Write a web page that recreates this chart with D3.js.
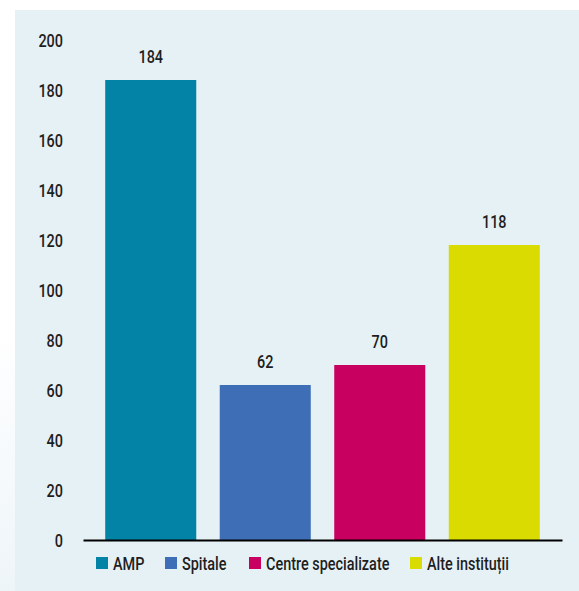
<!DOCTYPE html>
<html>
<head>
<meta charset="utf-8">
<script src="https://cdn.jsdelivr.net/npm/d3@7/dist/d3.min.js"></script>
<style>
  html, body { margin: 0; padding: 0; background: #ffffff; }
  svg { display: block; }
  text { font-family: Roboto, "Liberation Sans", sans-serif; font-weight: 500; fill: #1e1e1e; }
</style>
</head>
<body>
<svg id="chart" width="579" height="591"></svg>
<script>
// Categories, values and colours of the bar chart
const categories = ["AMP", "Spitale", "Centre specializate", "Alte instituții"];
const values = [184, 62, 70, 118];
const colors = ["#0383a5", "#3e6fb6", "#c8005f", "#dadb00"];
const yTicks = [0, 20, 40, 60, 80, 100, 120, 140, 160, 180, 200];

const svg = d3.select("#chart");
const W = 579, H = 591;
const FS = 19;      // font size
const SX = 0.76;    // horizontal squeeze for a condensed look

// Panel background
const defs = svg.append("defs");
const grad = defs.append("linearGradient")
  .attr("id", "edge").attr("x1", 0).attr("y1", 0).attr("x2", 0).attr("y2", 1);
grad.append("stop").attr("offset", "0.55").attr("stop-color", "#ffffff");
grad.append("stop").attr("offset", "1").attr("stop-color", "#eef5f9");
svg.append("rect").attr("x", 0).attr("y", 0).attr("width", 15).attr("height", H).attr("fill", "url(#edge)");
svg.append("rect").attr("x", 15).attr("y", 10).attr("width", W - 15).attr("height", H - 10).attr("fill", "#e6f1f6");

// Scales
const x = d3.scaleBand().domain(categories).range([83, 562]).paddingInner(0.205).paddingOuter(0.194);
const y = d3.scaleLinear().domain([0, 200]).range([540, 40]);

// Y tick labels (no axis line)
const yAxis = d3.axisLeft(y).tickValues(yTicks).tickSize(0).tickPadding(0);
const gy = svg.append("g").attr("transform", "translate(63,0)").call(yAxis);
gy.select(".domain").remove();
gy.selectAll("text")
  .attr("x", 0).attr("dy", "0.36em")
  .attr("transform", `scale(${SX},1)`)
  .attr("font-size", FS)
  .attr("font-family", null)
  .attr("fill", "#1e1e1e");

// Bars
svg.append("g").selectAll("rect").data(categories).join("rect")
  .attr("x", d => x(d))
  .attr("y", (d, i) => y(values[i]))
  .attr("width", x.bandwidth())
  .attr("height", (d, i) => y(0) - y(values[i]))
  .attr("fill", (d, i) => colors[i]);

// Value labels
svg.append("g").selectAll("text").data(categories).join("text")
  .attr("transform", (d, i) => `translate(${x(d) + x.bandwidth() / 2},${y(values[i]) - 17}) scale(${SX},1)`)
  .attr("text-anchor", "middle")
  .attr("font-size", FS)
  .text((d, i) => values[i]);

// Baseline
const xAxis = d3.axisBottom(x).tickSize(0).tickFormat("");
const gx = svg.append("g").attr("transform", "translate(0,540)").call(xAxis);
gx.select(".domain").attr("stroke", "#000").attr("stroke-width", 2);

// Legend
const legendX = [96, 165, 249, 410];
const lg = svg.append("g").selectAll("g").data(categories).join("g")
  .attr("transform", (d, i) => `translate(${legendX[i]},557)`);
lg.append("rect").attr("width", 12).attr("height", 12).attr("fill", (d, i) => colors[i]);
lg.append("text")
  .attr("transform", `translate(17,12.5) scale(${SX},1)`)
  .attr("font-size", FS)
  .text(d => d);
</script>
</body>
</html>
